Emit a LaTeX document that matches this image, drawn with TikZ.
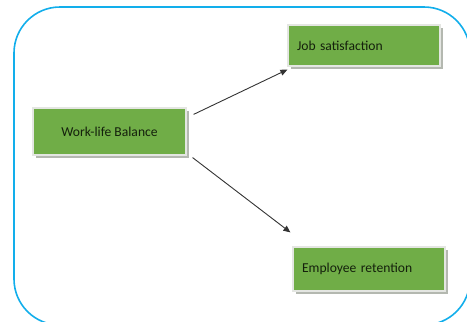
\documentclass[tikz,border=0pt]{standalone}
\usepackage{fontspec}
\setmainfont{Carlito}
\usetikzlibrary{arrows.meta}
\definecolor{frameblue}{HTML}{12AEEB}
\definecolor{boxgreen}{HTML}{70AD47}
\definecolor{boxtext}{HTML}{14200C}
\definecolor{shadowgray}{HTML}{B4B8B0}
\definecolor{rimgray}{HTML}{E4E6E2}
\begin{document}
\begin{tikzpicture}[x=1pt,y=-1pt,
  greenbox/.style={draw=rimgray,line width=1.2pt,fill=boxgreen,inner sep=0pt,
    minimum height=42pt,text=boxtext,font=\fontsize{13.6}{15}\selectfont,
    preaction={fill=shadowgray,transform canvas={shift={(2.5pt,-3pt)}}}},
  link/.style={draw=black!80,line width=0.9pt,-{Triangle[length=7pt,width=6pt]}}]
  \useasboundingbox (0,0) rectangle (467,322);
  % outer rounded frame, running off the right and bottom edges
  \draw[frameblue,line width=1.6pt,rounded corners=46pt] (14,7) rectangle (470,325);
  % the three boxes
  \node[greenbox,minimum width=153pt,minimum height=47pt] (wlb) at (109.5,131.5) {Work-life Balance};
  \node[greenbox,minimum width=152pt,minimum height=41pt,text width=134pt,align=left] (job) at (364,45.5) {Job satisfaction};
  \node[greenbox,minimum width=152pt,minimum height=44pt,text width=134pt,align=left] (ret) at (369,269) {Employee retention};
  % connectors
  \draw[link] ([shift={(7pt,-7pt)}]wlb.north east) -- ([shift={(0pt,-3pt)}]job.south west);
  \draw[link] ([shift={(6pt,-2pt)}]wlb.south east) -- ([shift={(-2pt,14pt)}]ret.north west);
\end{tikzpicture}
\end{document}
